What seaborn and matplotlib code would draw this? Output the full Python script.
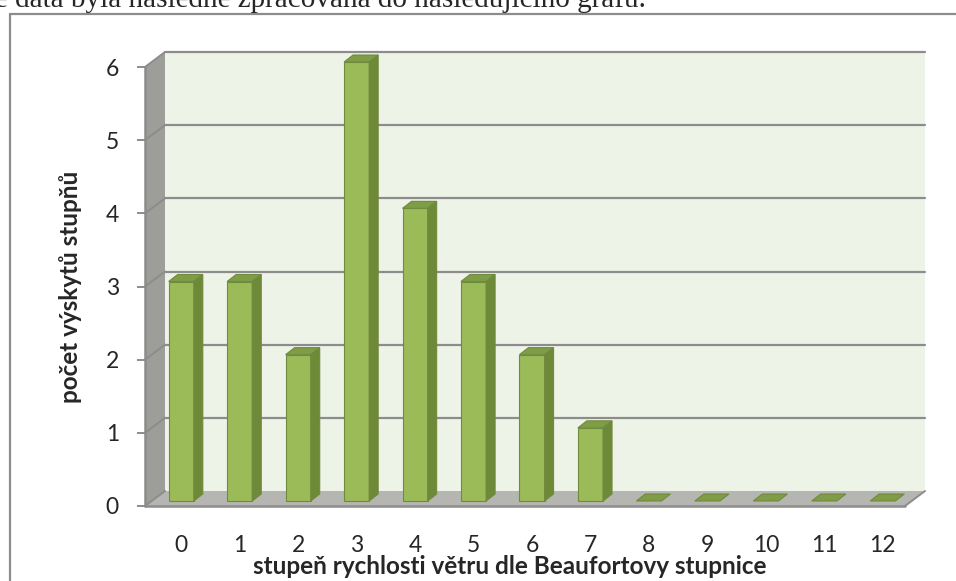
import matplotlib
matplotlib.use("Agg")
import matplotlib.pyplot as plt
import seaborn as sns
import pandas as pd
from matplotlib.patches import Polygon
from matplotlib.lines import Line2D
from matplotlib.transforms import IdentityTransform, ScaledTranslation

# data z grafu (počet výskytů jednotlivých stupňů)
stupne = [str(i) for i in range(13)]
pocty = [3, 3, 2, 6, 4, 3, 2, 1, 0, 0, 0, 0, 0]
y_ticky = [0, 1, 2, 3, 4, 5, 6]

# barvy ve stylu Excelu
ZELENA = "#9BBB59"
BOK = "#6E8A38"
VRCH = "#7F9C46"
OBRYS = "#6F8B3D"
STENA = "#EEF3E8"
PODLAHA = "#B5B6B2"
LEVA = "#9D9E9A"
MRIZKA = "#8C8C8C"

sns.set_theme(style="white")
plt.rcParams['font.family'] = ['Lato', 'DejaVu Sans']

W, H = 956, 581
fig = plt.figure(figsize=(W / 100, H / 100), dpi=100)

# osy = přední rovina grafu
ax = fig.add_axes([145 / W, 1 - 506 / H, 760 / W, 439 / H])
df = pd.DataFrame({"stupen": stupne, "pocet": pocty})
sns.barplot(data=df, x="stupen", y="pocet", order=stupne, color=ZELENA,
            width=0.43, saturation=1, ax=ax, zorder=5)
sloupce = list(ax.patches)
ax.set_xlim(-0.5, len(stupne) - 0.5)
ax.set_ylim(0, 6)
for s in ax.spines.values():
    s.set_visible(False)
ax.set_xlabel("")
ax.set_ylabel("")
ax.patch.set_alpha(0)

# hloubka 3D efektu v pixelech
HX, HY = 20, 15      # zadní stěna
BX, BY = 7, 5        # posun sloupců
DX, DY = 9, 7        # hloubka sloupců


def px(x, y):
    return ax.transData.transform((x, y))


def poly(body, barva, z, hrana="none", lw=0.0):
    p = Polygon(body, closed=True, facecolor=barva, edgecolor=hrana, lw=lw,
                transform=IdentityTransform(), clip_on=False, zorder=z)
    ax.add_artist(p)


def cara(a, b, lw, z):
    ax.add_artist(Line2D([a[0], b[0]], [a[1], b[1]], color=MRIZKA, lw=lw,
                         transform=IdentityTransform(), clip_on=False, zorder=z))


x0, x1 = -0.5, len(stupne) - 0.5
y0, y1 = 0, 6
fl, fr = px(x0, y0), px(x1, y0)
tl = px(x0, y1)
hl = (HX, HY)

# zadní stěna
poly([fl + hl, fr + hl, px(x1, y1) + hl, tl + hl], STENA, 0)
# levá stěna
poly([fl, tl, tl + hl, fl + hl], LEVA, 1)
# podlaha
poly([fl, fr, fr + hl, fl + hl], PODLAHA, 1)

# mřížka na zadní a levé stěně
for t in y_ticky[1:]:
    cara(px(x0, t) + hl, px(x1, t) + hl, 1.6, 2)
for t in y_ticky:
    cara(px(x0, t), px(x0, t) + hl, 1.4, 2)
# přední hrany
cara(fl, fr, 1.8, 3)
cara(fr, fr + hl, 1.4, 3)
cara(fl, tl, 1.8, 3)

# 3D sloupce: posun přední stěny + bok + vrch
posun = ScaledTranslation(BX / 100, BY / 100, fig.dpi_scale_trans)
for bar in sloupce:
    xa = bar.get_x()
    xb = xa + bar.get_width()
    h = bar.get_height()
    b = px(xb, 0) + (BX, BY)
    c = px(xb, h) + (BX, BY)
    d = px(xa, h) + (BX, BY)
    poly([c, d, d + (DX, DY), c + (DX, DY)], VRCH, 6, OBRYS, 0.8)
    if h > 0:
        bar.set_transform(ax.transData + posun)
        bar.set_edgecolor(OBRYS)
        bar.set_linewidth(0.8)
        bar.set_clip_on(False)
        poly([b, c, c + (DX, DY), b + (DX, DY)], BOK, 6, OBRYS, 0.8)
    else:
        bar.set_visible(False)

# popisky os
ax.set_yticks(y_ticky)
ax.set_yticklabels([str(t) for t in y_ticky], fontsize=16.5)
ax.set_xticks([i + BX / 58.46 for i in range(len(stupne))])
ax.set_xticklabels(stupne, fontsize=16.5)
ax.tick_params(axis="y", left=True, length=5.8, width=1.4, color=MRIZKA, pad=13)
ax.tick_params(axis="x", bottom=False, length=0, pad=21)

fig.text(70 / W, 1 - 287 / H, "počet výskytů stupňů", rotation=90, ha="center",
         va="center", fontsize=17.5, fontweight="bold")
fig.text(510 / W, 1 - 567 / H, "stupeň rychlosti větru dle Beaufortovy stupnice",
         ha="center", va="center", fontsize=17.5, fontweight="bold")

# rámeček oblasti grafu
fig.add_artist(Line2D([10 / W, 10 / W], [0, 1 - 14 / H], color=MRIZKA, lw=1.6,
                      transform=fig.transFigure))
fig.add_artist(Line2D([10 / W, 1], [1 - 14 / H, 1 - 14 / H], color=MRIZKA, lw=1.6,
                      transform=fig.transFigure))

# oříznutý text dokumentu nad grafem
fig.text(-5 / W, 1 - 7 / H, "é data byla následně zpracována do následujícího grafu.",
         ha="left", va="baseline", fontsize=21, family=["Liberation Serif", "DejaVu Serif"])

fig.savefig("out.png", dpi=100)
